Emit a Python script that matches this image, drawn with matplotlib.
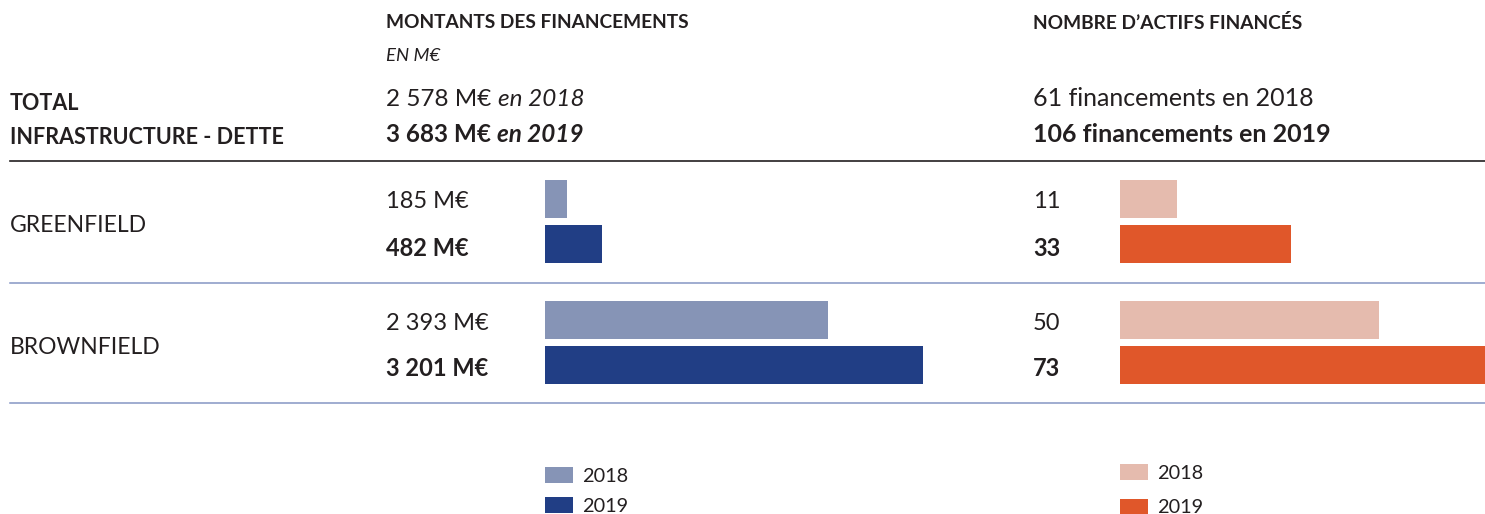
import matplotlib.pyplot as plt
import numpy as np

plt.rcParams['font.family'] = ['Lato', 'DejaVu Sans']

categories = ["GREENFIELD", "BROWNFIELD"]
montants_2018 = [185, 2393]
montants_2019 = [482, 3201]
nombre_2018 = [11, 50]
nombre_2019 = [33, 73]
years = ["2018", "2019"]

total_montants = ["2 578 M€", "3 683 M€"]
total_nombre = [61, 106]

light_blue = "#8694b6"
dark_blue = "#213e85"
light_orange = "#e5bbae"
dark_orange = "#e0572a"
txt = "#231f20"
sep = "#8596c4"

W, H = 1485, 514
fig = plt.figure(figsize=(W / 100, H / 100), dpi=100)

# background axes in pixel coords for texts and rules
bg = fig.add_axes([0, 0, 1, 1])
bg.set_xlim(0, W)
bg.set_ylim(H, 0)
bg.set_axis_off()

fs = 13.8
fv = 17  # value labels
ft = 17.5  # totals
bg.text(386, 23, "MONTANTS DES FINANCEMENTS", fontsize=fs, fontweight="bold", color=txt, va="center")
bg.text(386, 56, "EN M€", fontsize=fs - 0.5, style="italic", color=txt, va="center")
bg.text(1033, 23, "NOMBRE D\u2019ACTIFS FINANCÉS", fontsize=fs, fontweight="bold", color=txt, va="center")

bg.text(10, 104, "TOTAL", fontsize=15.5, fontweight="bold", color=txt, va="center")
bg.text(10, 137, "INFRASTRUCTURE - DETTE", fontsize=15.5, fontweight="bold", color=txt, va="center")

t = bg.text(386, 99, total_montants[0] + " ", fontsize=ft, color=txt, va="center")
bg.annotate("en " + years[0], xycoords=t, xy=(1, 0), va="bottom", fontsize=ft,
            style="italic", color=txt)
t = bg.text(386, 134, total_montants[1] + " ", fontsize=ft, fontweight="bold", color=txt, va="center")
bg.annotate("en " + years[1], xycoords=t, xy=(1, 0), va="bottom", fontsize=ft,
            style="italic", fontweight="bold", color=txt)

bg.text(1033, 99, f"{total_nombre[0]} financements en {years[0]}", fontsize=ft + 0.5, color=txt, va="center")
bg.text(1033, 134, f"{total_nombre[1]} financements en {years[1]}", fontsize=ft + 0.5,
        fontweight="bold", color=txt, va="center")

bg.plot([10, W], [161, 161], color=txt, lw=1.2)
bg.plot([10, W], [283, 283], color=sep, lw=1.1)
bg.plot([10, W], [403, 403], color=sep, lw=1.1)

# bar axes
bar_top, bar_bottom = 161, 403
ax_h = (bar_bottom - bar_top) / H
ax_b = 1 - bar_bottom / H
axL = fig.add_axes([545 / W, ax_b, (1000 - 545) / W, ax_h])
axR = fig.add_axes([1120 / W, ax_b, (W - 1120) / W, ax_h])

y = np.arange(len(categories))
off = 0.19
bh = 0.314

for ax, v18, v19, c18, c19, xmax in [
    (axL, montants_2018, montants_2019, light_blue, dark_blue, (1000 - 545) / 0.1181),
    (axR, nombre_2018, nombre_2019, light_orange, dark_orange, (W - 1120) / 5.18),
]:
    ax.barh(y - off, v18, height=bh, color=c18, label=years[0])
    ax.barh(y + off, v19, height=bh, color=c19, label=years[1])
    ax.set_xlim(0, xmax)
    ax.set_ylim(1.5, -0.5)
    ax.set_axis_off()

# category and value labels
for i, cat in enumerate(categories):
    yc = 222 + 121 * i
    bg.text(10, yc + 4, cat, fontsize=16.5, color=txt, va="center")
    bg.text(386, yc - 20, f"{montants_2018[i]:,} M€".replace(",", " "), fontsize=fv,
            color=txt, va="center")
    bg.text(386, yc + 26, f"{montants_2019[i]:,} M€".replace(",", " "), fontsize=fv,
            fontweight="bold", color=txt, va="center")
    bg.text(1033, yc - 20, str(nombre_2018[i]), fontsize=fv, color=txt, va="center")
    bg.text(1033, yc + 26, str(nombre_2019[i]), fontsize=fv, fontweight="bold",
            color=txt, va="center")

for ax, x0, ytop, sp in [(axL, 545, 467, 0.62), (axR, 1120, 464, 0.85)]:
    ax.legend(loc="upper left", bbox_to_anchor=(x0 / W, 1 - ytop / H),
              bbox_transform=fig.transFigure, frameon=False, fontsize=14.3,
              handlelength=1.4, handleheight=0.85, handletextpad=0.45,
              labelspacing=sp, borderpad=0, borderaxespad=0,
              labelcolor=txt)

fig.savefig("out.png", dpi=100)
